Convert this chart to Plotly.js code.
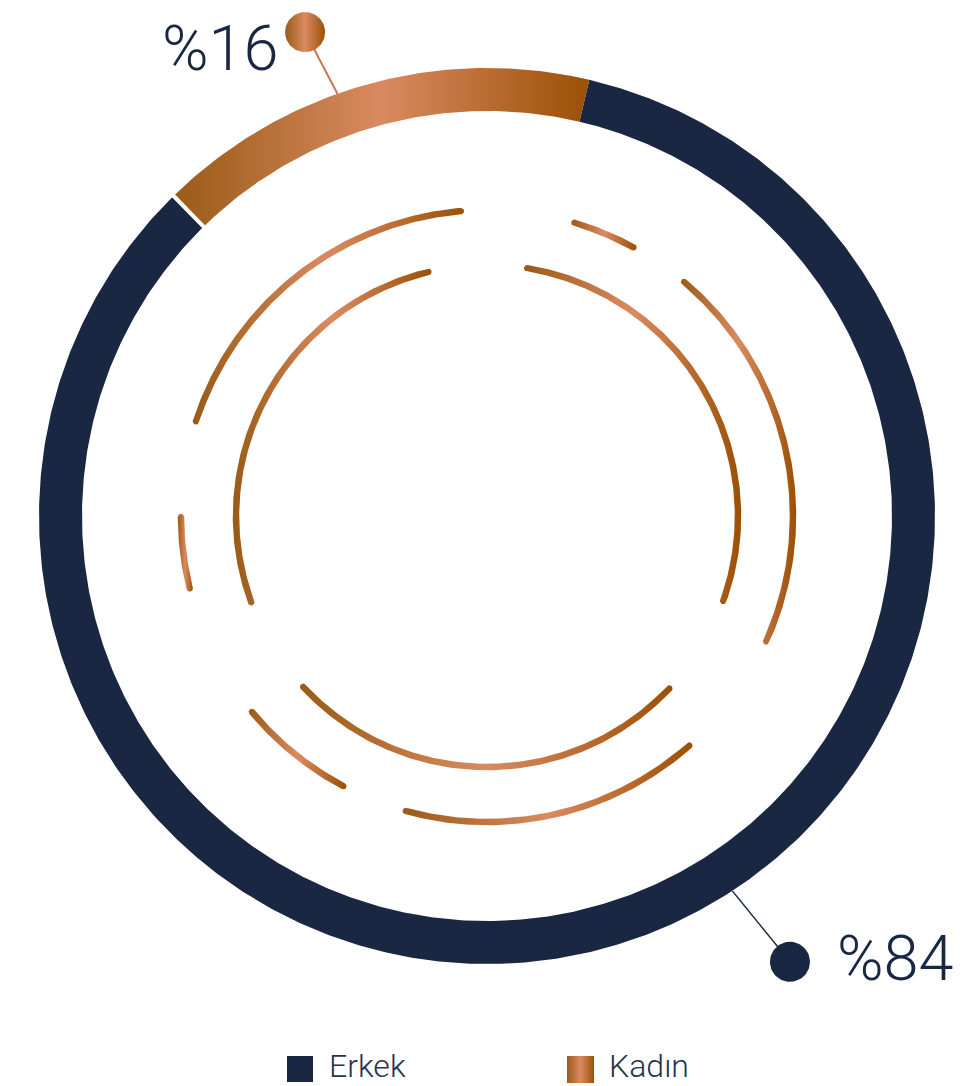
<!DOCTYPE html>
<html>
<head>
<meta charset="utf-8">
<script src="https://cdn.plot.ly/plotly-3.0.1.min.js"></script>
<style>html,body{margin:0;padding:0;background:#fff;overflow:hidden}</style>
</head>
<body>
<div id="chart" style="width:968px;height:1086px"></div>
<script>
// ---------------- DATA ----------------
const categories = ['Erkek', 'Kadın'];
const values = [84, 16];
const valueLabels = values.map(v => '%' + v);

// ---------------- STYLE / LAYOUT CONFIG ----------------
const W = 968, H = 1086;
const center = {x: 487, y: 516};
const ring = {outer: 448, inner: 405};
const NAVY = '#1a2742';
const COPPER_SCALE = [[0, '#9a5b16'], [0.5, '#da8a61'], [1, '#9b5005']];
const kadinCenterDeg = -15.6;           // where the Kadın slice is centred (deg, clockwise from 12 o'clock)

// decorative copper arcs: [radius, startDeg, endDeg]
const decoR = {outer: 306, inner: 251};
const decoArcs = [
  [decoR.outer, -72, -4.9],
  [decoR.outer, 16.6, 28.6],
  [decoR.outer, 40.1, 114.2],
  [decoR.outer, 138.6, 195.4],
  [decoR.outer, 208, 230.2],
  [decoR.outer, 256.3, 269.8],
  [decoR.inner, 249.9, 346.5],
  [decoR.inner, 9.2, 109.8],
  [decoR.inner, 133.4, 227.1]
];
const decoWidth = 6.5;

// callouts per category index
const callouts = {
  0: {lineFrom: [146.8, 448], dotAt: [145.8, 539], dotR: 20, lineColor: NAVY, lineW: 1.5, textX: 835, textY: 958},
  1: {lineFrom: [-19.5, 448], dotAt: [-20.6, 517], dotR: 20, lineColor: '#c97a4a', lineW: 2, textX: 160, textY: 48}
};
const legendPos = [
  {sx: 287, sy: 1056, size: 26, tx: 327, ty: 1066},
  {sx: 567, sy: 1056, size: 27, tx: 607, ty: 1066}
];
const FONT = 'Roboto, "DejaVu Sans", sans-serif';

// ---------------- GEOMETRY HELPERS ----------------
const rad = d => d * Math.PI / 180;
function pt(deg, r) {
  return [center.x + r * Math.sin(rad(deg)), center.y - r * Math.cos(rad(deg))];
}
function sector(a0, a1, r0, r1) {
  const xs = [], ys = [];
  const n = Math.max(2, Math.ceil(Math.abs(a1 - a0) * 2));
  for (let i = 0; i <= n; i++) { const p = pt(a0 + (a1 - a0) * i / n, r1); xs.push(p[0]); ys.push(p[1]); }
  for (let i = n; i >= 0; i--) { const p = pt(a0 + (a1 - a0) * i / n, r0); xs.push(p[0]); ys.push(p[1]); }
  xs.push(xs[0]); ys.push(ys[0]);
  return {xs, ys};
}
function roundArc(r, a0, a1, w) {
  const h = w / 2, xs = [], ys = [];
  const n = Math.max(4, Math.ceil((a1 - a0) * 2));
  for (let i = 0; i <= n; i++) { const p = pt(a0 + (a1 - a0) * i / n, r + h); xs.push(p[0]); ys.push(p[1]); }
  let c = pt(a1, r), t = rad(a1);
  for (let k = 1; k < 12; k++) {
    const f = Math.PI * k / 12;
    const ux = Math.sin(t), uy = -Math.cos(t), tx = Math.cos(t), ty = Math.sin(t);
    xs.push(c[0] + h * (ux * Math.cos(f) + tx * Math.sin(f)));
    ys.push(c[1] + h * (uy * Math.cos(f) + ty * Math.sin(f)));
  }
  for (let i = n; i >= 0; i--) { const p = pt(a0 + (a1 - a0) * i / n, r - h); xs.push(p[0]); ys.push(p[1]); }
  c = pt(a0, r); t = rad(a0);
  for (let k = 1; k < 12; k++) {
    const f = Math.PI * k / 12;
    const ux = Math.sin(t), uy = -Math.cos(t), tx = Math.cos(t), ty = Math.sin(t);
    xs.push(c[0] - h * (ux * Math.cos(f) + tx * Math.sin(f)));
    ys.push(c[1] - h * (uy * Math.cos(f) + ty * Math.sin(f)));
  }
  xs.push(xs[0]); ys.push(ys[0]);
  return {xs, ys};
}
function circle(cx, cy, r) {
  const xs = [], ys = [];
  for (let i = 0; i <= 72; i++) { const a = 2 * Math.PI * i / 72; xs.push(cx + r * Math.cos(a)); ys.push(cy + r * Math.sin(a)); }
  return {xs, ys};
}
function fillTrace(g, style) {
  const tr = {x: g.xs, y: g.ys, type: 'scatter', mode: 'lines', fill: 'toself',
    line: {width: 0, color: 'rgba(0,0,0,0)'}, hoverinfo: 'skip', showlegend: false};
  if (style === 'copper') {
    tr.fillcolor = '#c47a48';
    tr.fillgradient = {type: 'horizontal', colorscale: COPPER_SCALE};
  } else tr.fillcolor = style;
  return tr;
}
const styleFor = i => (i === 0 ? NAVY : 'copper');

// ---------------- SLICE ANGLES FROM DATA ----------------
const total = values.reduce((a, b) => a + b, 0);
const sweep = values.map(v => v / total * 360);
const angles = [];
angles[1] = [kadinCenterDeg - sweep[1] / 2, kadinCenterDeg + sweep[1] / 2];
angles[0] = [angles[1][1], angles[1][1] + sweep[0]];

const traces = [];
categories.forEach((cat, i) => {
  const g = sector(angles[i][0], angles[i][1], ring.inner, ring.outer);
  const tr = fillTrace(g, styleFor(i));
  tr.name = cat;
  traces.push(tr);
});
{
  const p0 = pt(angles[1][0], ring.inner - 3), p1 = pt(angles[1][0], ring.outer + 3);
  traces.push({x: [p0[0], p1[0]], y: [p0[1], p1[1]], type: 'scatter', mode: 'lines',
    line: {color: '#ffffff', width: 4}, hoverinfo: 'skip', showlegend: false});
}
decoArcs.forEach(a => traces.push(fillTrace(roundArc(a[0], a[1], a[2], decoWidth), 'copper')));

const annotations = [];
categories.forEach((cat, i) => {
  const c = callouts[i];
  const p0 = pt(c.lineFrom[0], c.lineFrom[1]);
  const p1 = pt(c.dotAt[0], c.dotAt[1]);
  traces.push({x: [p0[0], p1[0]], y: [p0[1], p1[1]], type: 'scatter', mode: 'lines',
    line: {color: c.lineColor, width: c.lineW}, hoverinfo: 'skip', showlegend: false});
  traces.push(fillTrace(circle(p1[0], p1[1], c.dotR), styleFor(i)));
  annotations.push({x: c.textX, y: c.textY, xref: 'x', yref: 'y', xanchor: 'left', yanchor: 'middle',
    text: valueLabels[i], showarrow: false, font: {family: FONT, size: 63, color: NAVY, weight: 300}});
});

categories.forEach((cat, i) => {
  const L = legendPos[i];
  const g = {xs: [L.sx, L.sx + L.size, L.sx + L.size, L.sx, L.sx], ys: [L.sy, L.sy, L.sy + L.size, L.sy + L.size, L.sy]};
  traces.push(fillTrace(g, styleFor(i)));
  annotations.push({x: L.tx, y: L.ty, xref: 'x', yref: 'y', xanchor: 'left', yanchor: 'middle',
    text: cat, showarrow: false, font: {family: FONT, size: 32, color: '#27324b', weight: 300}});
});

const layout = {
  width: W, height: H,
  margin: {l: 0, r: 0, t: 0, b: 0, pad: 0},
  paper_bgcolor: '#ffffff', plot_bgcolor: '#ffffff',
  xaxis: {range: [0, W], visible: false, fixedrange: true},
  yaxis: {range: [H, 0], visible: false, fixedrange: true},
  showlegend: false,
  annotations: annotations
};
Plotly.newPlot('chart', traces, layout, {displayModeBar: false, staticPlot: true});
</script>
</body>
</html>
